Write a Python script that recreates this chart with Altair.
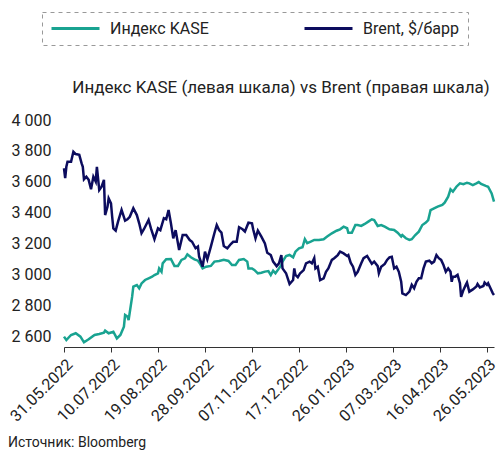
import altair as alt
import pandas as pd

START = "2022-05-31"
SERIES = ["Индекс KASE", "Brent, $/барр"]
COLORS = ["#19A391", "#0C0C5E"]
TITLE = "Индекс KASE (левая шкала) vs Brent (правая шкала)"
SOURCE = "Источник: Bloomberg"

# days after 31.05.2022
KASE_DAY = [0, 2, 6, 10, 14, 17, 21, 26, 30, 34, 35, 38, 42, 45, 48, 51, 52, 54, 55, 58,
            59, 62, 64, 66, 69, 72, 75, 77, 80, 81, 83, 84, 87, 91, 94, 97, 100, 103, 105, 108,
            111, 114, 116, 118, 121, 125, 128, 132, 136, 140, 143, 146, 149, 153, 156, 157, 160, 162, 165, 168,
            171, 174, 176, 178, 180, 183, 185, 186, 189, 192, 195, 197, 200, 203, 205, 207, 210, 213, 217, 221,
            224, 228, 232, 235, 238, 241, 242, 245, 248, 250, 253, 256, 259, 262, 264, 267, 270, 273, 277, 281,
            284, 287, 288, 291, 294, 296, 299, 302, 305, 308, 310, 312, 315, 318, 322, 324, 327, 329, 331, 334,
            337, 340, 343, 345, 348, 351, 353, 355, 359, 361, 364, 366]
KASE_VAL = [2597, 2575, 2608, 2619, 2597, 2560, 2580, 2608, 2614, 2623, 2636, 2619, 2629, 2586, 2608, 2662, 2737, 2727, 2705, 2856,
            2921, 2931, 2910, 2942, 2964, 2975, 2985, 2996, 3007, 3039, 3018, 3072, 3098, 3100, 3055, 3055, 3094, 3104, 3130, 3111,
            3098, 3089, 3067, 3039, 3050, 3055, 3083, 3087, 3094, 3087, 3061, 3061, 3094, 3100, 3083, 3039, 3039, 3029, 3007, 3011,
            3018, 3022, 2996, 3024, 3007, 3039, 3061, 3083, 3119, 3126, 3111, 3147, 3169, 3176, 3228, 3202, 3212, 3223, 3223, 3228,
            3245, 3266, 3283, 3292, 3309, 3299, 3270, 3270, 3320, 3320, 3314, 3327, 3342, 3357, 3352, 3314, 3320, 3309, 3292, 3288,
            3270, 3245, 3255, 3234, 3223, 3228, 3255, 3277, 3320, 3336, 3352, 3417, 3428, 3439, 3450, 3465, 3503, 3551, 3536, 3568,
            3590, 3584, 3594, 3590, 3579, 3590, 3598, 3586, 3573, 3568, 3525, 3471]

BRENT_DAY = [0, 1, 2, 3, 6, 8, 10, 13, 15, 16, 17, 19, 21, 23, 25, 27, 28, 30, 32, 34,
             35, 37, 38, 40, 41, 42, 44, 46, 49, 52, 54, 56, 59, 62, 64, 66, 68, 72, 74, 77,
             80, 82, 85, 87, 89, 91, 93, 95, 98, 101, 104, 107, 109, 112, 114, 115, 118, 120, 122, 125,
             128, 130, 132, 134, 136, 139, 142, 144, 147, 149, 152, 154, 157, 160, 161, 163, 165, 168, 171, 173,
             176, 178, 181, 183, 185, 186, 189, 192, 195, 196, 197, 199, 201, 204, 206, 209, 211, 213, 214, 216,
             218, 221, 223, 225, 228, 230, 233, 235, 238, 241, 242, 244, 246, 248, 250, 253, 255, 258, 260, 262,
             264, 267, 268, 270, 273, 275, 277, 279, 281, 283, 285, 287, 288, 291, 294, 296, 298, 300, 302, 304,
             306, 308, 311, 313, 315, 317, 319, 321, 323, 325, 327, 329, 330, 331, 333, 335, 337, 338, 340, 342,
             343, 345, 348, 351, 352, 354, 357, 358, 360, 361, 363, 365, 366]
BRENT_USD = [117.0, 113.5, 117.5, 119.3, 119.3, 122.8, 122.0, 121.7, 118.7, 117.5, 113.1, 114.0, 112.9, 109.6, 114.0, 112.3, 117.5, 109.3, 110.5, 112.9,
             100.5, 103.4, 106.4, 104.6, 99.9, 95.8, 95.0, 98.2, 102.3, 98.5, 99.0, 99.9, 102.9, 100.5, 97.6, 94.1, 95.5, 98.8, 95.8, 92.0,
             95.8, 95.2, 99.4, 99.0, 102.3, 97.6, 92.3, 95.2, 88.2, 93.5, 93.5, 91.7, 91.1, 88.8, 89.4, 85.8, 82.3, 87.6, 84.9, 89.4,
             94.1, 97.0, 95.2, 94.3, 89.6, 88.8, 90.3, 91.1, 91.1, 96.2, 95.5, 94.7, 97.8, 97.6, 95.5, 92.3, 95.0, 92.9, 90.5, 87.2,
             86.4, 84.1, 82.5, 83.5, 86.4, 81.7, 80.0, 76.2, 77.6, 81.7, 79.4, 78.6, 80.0, 81.1, 83.5, 84.1, 83.5, 85.3, 81.7, 82.3,
             77.6, 78.2, 80.5, 81.7, 84.7, 85.3, 86.4, 87.6, 87.0, 86.1, 86.4, 83.7, 82.3, 79.4, 80.5, 83.5, 85.3, 86.1, 84.7, 83.3,
             84.1, 82.5, 80.0, 82.3, 83.3, 84.7, 85.6, 85.8, 81.7, 82.3, 80.5, 77.0, 72.9, 72.3, 73.5, 75.9, 74.7, 77.0, 78.2, 78.2,
             81.7, 84.1, 84.4, 83.5, 84.1, 86.4, 85.3, 84.7, 82.9, 80.5, 81.7, 80.5, 77.0, 78.8, 78.8, 79.4, 76.5, 71.7, 74.1, 75.9,
             76.7, 73.5, 74.3, 75.3, 76.2, 75.0, 75.5, 76.7, 75.9, 76.5, 74.7, 72.9, 72.3]

X_TICKS = ["2022-05-31", "2022-07-10", "2022-08-19", "2022-09-28", "2022-11-07",
           "2022-12-17", "2023-01-26", "2023-03-07", "2023-04-16", "2023-05-26"]
X_END = "2023-06-01"
Y_TICKS = [2600, 2800, 3000, 3200, 3400, 3600, 3800, 4000]
KASE_DOMAIN = [2530, 4000]
BRENT_DOMAIN = [54, 134]

FONT = "Roboto"
TEXT = "#222222"


def to_dates(days):
    return (pd.Timestamp(START) + pd.to_timedelta(days, unit="D")).strftime("%Y-%m-%d")


def dt(s):
    y, m, d = (int(p) for p in s.split("-"))
    return alt.DateTime(year=y, month=m, date=d, utc=True)


kase = pd.DataFrame({"date": to_dates(KASE_DAY), "value": KASE_VAL, "series": SERIES[0]})
brent = pd.DataFrame({"date": to_dates(BRENT_DAY), "value": BRENT_USD, "series": SERIES[1]})

x_enc = alt.X(
    "date:T",
    scale=alt.Scale(type="utc", domain=[dt(START), dt(X_END)]),
    axis=alt.Axis(
        values=[dt(s) for s in X_TICKS],
        labelExpr="utcFormat(datum.value, '%d.%m.%Y')",
        labelOverlap=False, labelBound=False,
        title=None, labelAngle=-45, labelFontSize=16, labelFont=FONT, labelColor=TEXT,
        domainColor="#333333", tickColor="#333333", tickSize=5, grid=False, labelPadding=4,
    ),
)

color_enc = alt.Color(
    "series:N",
    scale=alt.Scale(domain=SERIES, range=COLORS),
    legend=alt.Legend(
        title=None, orient="none", legendX=-22, legendY=-108, direction="horizontal",
        symbolType="stroke", symbolSize=2304, symbolStrokeWidth=3, clipHeight=17,
        labelFont=FONT, labelFontSize=16, labelColor=TEXT, labelOffset=9,
        columnPadding=94, padding=8, strokeColor="#999999",
    ),
)

kase_line = alt.Chart(kase).mark_line(strokeWidth=2.5).encode(
    x=x_enc,
    y=alt.Y(
        "value:Q",
        scale=alt.Scale(domain=KASE_DOMAIN, nice=False, zero=False),
        axis=alt.Axis(
            values=Y_TICKS, labelExpr="replace(format(datum.value, ','), ',', ' ')",
            title=None, domain=False, ticks=False, grid=False, labelPadding=13,
            labelFontSize=16, labelFont=FONT, labelColor=TEXT,
        ),
    ),
    color=color_enc,
)

brent_line = alt.Chart(brent).mark_line(strokeWidth=2.5).encode(
    x=x_enc,
    y=alt.Y("value:Q", scale=alt.Scale(domain=BRENT_DOMAIN, nice=False, zero=False), axis=None),
    color=color_enc,
)

title = alt.Chart(pd.DataFrame({"t": [TITLE]})).mark_text(
    align="center", baseline="middle", fontSize=17, font=FONT, color=TEXT
).encode(x=alt.value(217), y=alt.value(-32), text="t:N")

source = alt.Chart(pd.DataFrame({"t": [SOURCE]})).mark_text(
    align="left", baseline="alphabetic", fontSize=14, font=FONT, color=TEXT
).encode(x=alt.value(-56), y=alt.value(327), text="t:N")

chart = (
    alt.layer(kase_line, brent_line, title, source)
    .resolve_scale(y="independent")
    .properties(
        width=430, height=227,
        autosize=alt.AutoSizeParams(type="none"),
        padding={"left": 56, "top": 112, "right": 2, "bottom": 106},
    )
    .configure_view(stroke=None)
    .configure_legend(strokeDash=[4, 4], strokeWidth=1)
)

chart.save("out.html", embed_options={"renderer": "svg", "actions": False})
